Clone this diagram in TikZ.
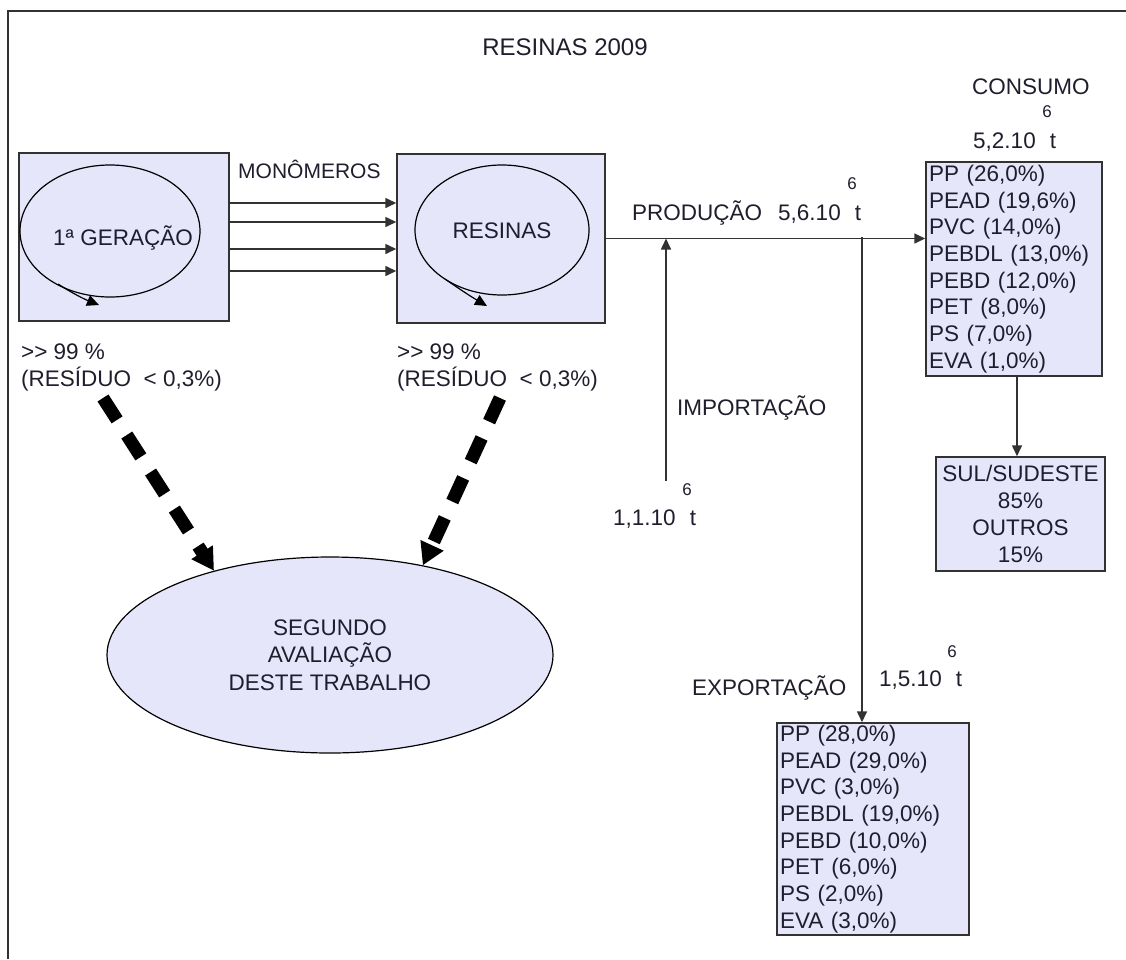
\documentclass[tikz,border=0pt]{standalone}
\usepackage{fontspec}
\setmainfont{Liberation Sans}
\usetikzlibrary{arrows.meta,shapes.geometric}
\definecolor{boxfill}{RGB}{230,230,250}
\definecolor{ink}{RGB}{30,30,45}
\definecolor{edge}{RGB}{50,50,50}
\tikzset{
  txt/.style={inner sep=0pt, text=ink, font=\fontsize{22.5}{26.7}\selectfont},
  sup/.style={inner sep=0pt, text=ink, font=\fontsize{17}{20}\selectfont},
  box/.style={draw=edge, line width=1.5pt, fill=boxfill, inner sep=0pt},
  listbox/.style={box, inner xsep=2pt, inner ysep=0pt, align=left, text=ink,
    font=\fontsize{22.5}{26.7}\selectfont},
  arr/.style={draw=edge, line width=1.6pt, -{Triangle[width=10pt,length=11pt]}},
  looparr/.style={draw=black, line width=1.2pt, -{Triangle[width=11pt,length=12pt]}},
  bigdash/.style={line width=13pt, dash pattern=on 26pt off 18pt,
    -{Triangle[width=24pt,length=22pt]}}
}
\begin{document}
\begin{tikzpicture}[x=1pt,y=-1pt]
\useasboundingbox (0,0) rectangle (1126,959);
% frame
\draw[edge, line width=2pt] (8,959) -- (8,11) -- (1126,11);
% title
\node[txt, anchor=base, font=\fontsize{24}{28}\selectfont] (title) at (565,55) {RESINAS 2009};

% box 1
\node[box, minimum width=210pt, minimum height=168pt] (box1) at (124,237) {};
\draw[black, line width=1.2pt] (110,231) ellipse [x radius=90, y radius=66];
\draw[looparr] (58,284) .. controls (72,293) and (84,299) .. (99,305);
\node[txt] (gen) at (123,238) {1ª GERAÇÃO};

% box 2
\node[box, minimum width=208pt, minimum height=169pt] (box2) at (501,238.5) {};
\draw[black, line width=1.2pt] (502,230) ellipse [x radius=87, y radius=65];
\draw[looparr] (445,279) .. controls (458,288) and (470,296) .. (487,306);
\node[txt] (res) at (502,231) {RESINAS};

% monomer arrows
\node[txt, anchor=base west, font=\fontsize{21}{25}\selectfont] (mono) at (238,178) {MONÔMEROS};
\foreach \yy in {203,222,249,271}
  \draw[arr] (box1.east |- 0,\yy) -- (box2.west |- 0,\yy);

% labels under boxes
\node[txt, anchor=base west] (p1) at (21,359) {>{}> 99 \%};
\node[txt, anchor=base west] (r1) at (21,386) {(RESÍDUO\ \ <{} 0,3\%)};
\node[txt, anchor=base west] (p2) at (397,359) {>{}> 99 \%};
\node[txt, anchor=base west] (r2) at (397,386) {(RESÍDUO\ \ <{} 0,3\%)};

% evaluation ellipse
\node[ellipse, draw=black, line width=1.2pt, fill=boxfill, minimum width=446pt,
  minimum height=196pt, inner sep=0pt, align=center, text=ink,
  font=\fontsize{22.5}{27.5}\selectfont] (seg) at (330,655)
  {SEGUNDO\\AVALIAÇÃO\\DESTE TRABALHO};
\coordinate (d1) at (103,398);
\coordinate (d2) at (500,398);
\draw[bigdash] (d1) -- (seg.144);
\draw[bigdash] (d2) -- (seg.44);

% consumption box
\node[listbox, minimum width=176pt, minimum height=214pt, text width=170pt] (cons) at (1014,269)
  {PP (26,0\%)\\PEAD (19,6\%)\\PVC (14,0\%)\\PEBDL (13,0\%)\\PEBD (12,0\%)\\PET (8,0\%)\\PS (7,0\%)\\EVA (1,0\%)};
\node[txt, anchor=base west] (consl) at (972,94) {CONSUMO};
\node[sup] (cons6) at (1047,112) {6};
\node[txt, anchor=base west] (consv) at (973,148) {5,2.10\hspace{14pt}t};

% production
\draw[arr] (box2.east) -- (cons.west |- box2.east);
\node[txt, anchor=base west] (prod) at (632,220) {PRODUÇÃO};
\node[txt, anchor=base west] (prodv) at (778,220) {5,6.10\hspace{14pt}t};
\node[sup] (prod6) at (852,184) {6};

% import
\coordinate (imp) at (666,481);
\draw[arr] (imp) -- (imp |- box2.east);
\node[txt, anchor=base west] (impl) at (677,415) {IMPORTAÇÃO};
\node[sup] (imp6) at (687,490) {6};
\node[txt, anchor=base west] (impv) at (613,525) {1,1.10\hspace{14pt}t};

% SUL box
\node[box, minimum width=169pt, minimum height=114pt, align=center, text=ink,
  font=\fontsize{22.5}{27}\selectfont] (sul) at (1020.5,514)
  {SUL/SUDESTE\\85\%\\OUTROS\\15\%};
\draw[arr] (cons.south -| 1017,0) -- (sul.north -| 1017,0);

% export
\node[listbox, minimum width=192pt, minimum height=212pt, text width=186pt] (expb) at (873,829)
  {PP (28,0\%)\\PEAD (29,0\%)\\PVC (3,0\%)\\PEBDL (19,0\%)\\PEBD (10,0\%)\\PET (6,0\%)\\PS (2,0\%)\\EVA (3,0\%)};
\coordinate (exps) at (862,237);
\draw[arr] (exps) -- (exps |- expb.north);
\node[txt, anchor=base west] (expl) at (692,695) {EXPORTAÇÃO};
\node[txt, anchor=base west] (expv) at (879,686) {1,5.10\hspace{14pt}t};
\node[sup] (exp6) at (952,652) {6};
\end{tikzpicture}
\end{document}
